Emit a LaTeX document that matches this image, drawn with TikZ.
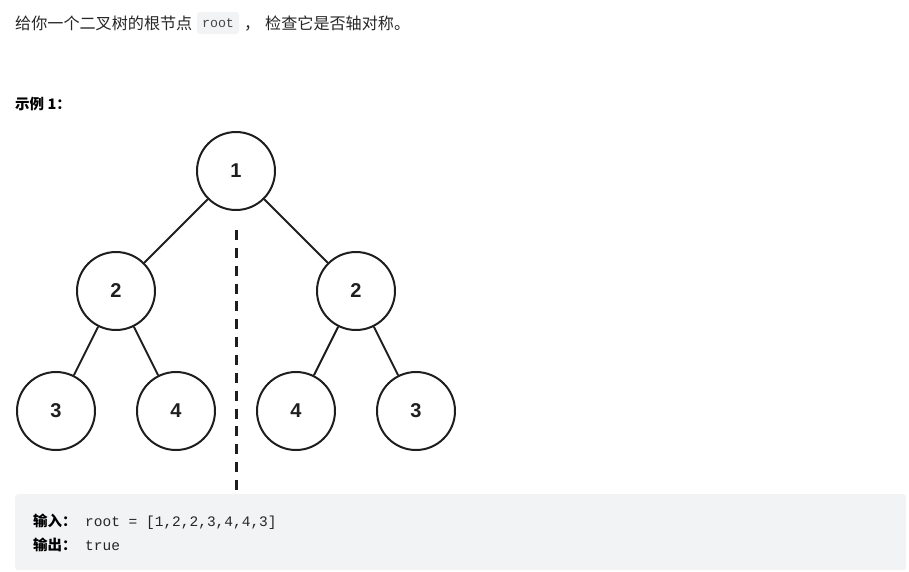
\documentclass[tikz,border=0pt]{standalone}
\usepackage{fontspec}
\setmainfont{Noto Sans CJK SC}
\newfontfamily\cjk{Noto Sans CJK SC}
\newfontfamily\numfont{Liberation Sans}
\newfontfamily\codefont{Liberation Mono}
\definecolor{txt}{HTML}{262626}
\definecolor{codebg}{HTML}{F2F3F5}
\definecolor{inl}{HTML}{F2F3F5}
\definecolor{ink}{HTML}{1E1E1E}
\tikzset{
  treenode/.style={circle, draw=ink, line width=2pt, minimum size=78pt, inner sep=0pt,
    font=\numfont\bfseries\fontsize{20}{24}\selectfont, text=ink},
  edge/.style={draw=ink, line width=2pt},
  axis/.style={draw=ink, line width=3pt, dash pattern=on 10pt off 7.86pt},
  cjktext/.style={anchor=base west, inner sep=0pt, text=txt, font=\cjk\fontsize{16.1}{19}\selectfont},
  boldtext/.style={anchor=base west, inner sep=0pt, text=black, font=\cjk\bfseries\fontsize{14.5}{17}\selectfont},
  codetext/.style={anchor=base west, inner sep=0pt, text=txt, font=\codefont\fontsize{14.5}{17}\selectfont},
}
\begin{document}
\begin{tikzpicture}[x=1pt,y=-1pt]
\useasboundingbox (0,0) rectangle (909,571);
% top line
\node[cjktext] (q1) at (15,29) {给你一个二叉树的根节点};
\node[draw=none, fill=inl, rounded corners=3pt, minimum width=42pt, minimum height=22pt, inner sep=0pt,
  font=\codefont\fontsize{13.3}{16}\selectfont, text=txt!85] (root) at (218,23) {root};
\node[cjktext] (comma) at (244,29) {，};
\node[cjktext] (q2) at (265,29) {检查它是否轴对称。};
% example title
\node[boldtext] (ex) at (15,109) {示例 1：};
% tree
\node[treenode] (n1) at (236,171) {1};
\node[treenode] (n2a) at (116,291) {2};
\node[treenode] (n2b) at (356,291) {2};
\node[treenode] (n3a) at (56,411) {3};
\node[treenode] (n4a) at (176,411) {4};
\node[treenode] (n4b) at (296,411) {4};
\node[treenode] (n3b) at (416,411) {3};
\draw[edge] (n1) -- (n2a);
\draw[edge] (n1) -- (n2b);
\draw[edge] (n2a) -- (n3a);
\draw[edge] (n2a) -- (n4a);
\draw[edge] (n2b) -- (n4b);
\draw[edge] (n2b) -- (n3b);
\coordinate (axtop) at (236,230);
\coordinate (axbot) at (236,491);
\draw[axis] (axtop) -- (axbot);
% code box
\node[fill=codebg, rounded corners=3pt, minimum width=891pt, minimum height=76pt, inner sep=0pt, anchor=north west] (box) at (15,494) {};
\node[boldtext] (in) at (33,526) {输入：};
\node[codetext] (inv) at (85,526) {root = [1,2,2,3,4,4,3]};
\node[boldtext] (out) at (33,550) {输出：};
\node[codetext] (outv) at (85,550) {true};
\end{tikzpicture}
\end{document}
